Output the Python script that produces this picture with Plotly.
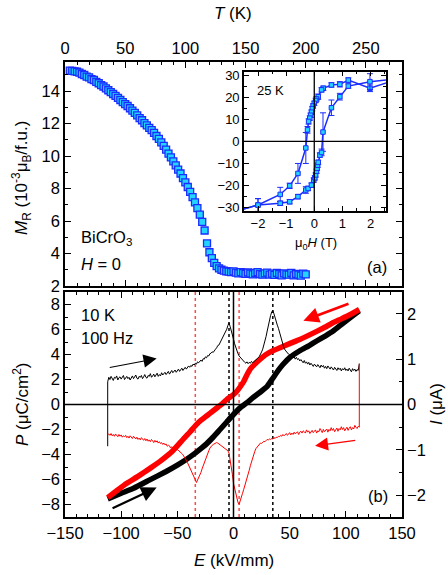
import plotly.graph_objects as go

# ---------------- (a) remanent magnetisation vs temperature ----------------
temp_K = [4, 6, 8, 10, 12, 14, 16, 18, 20, 22, 24, 26, 28, 30, 32, 34, 36, 38, 40,
          42, 44, 46, 48, 50, 52, 54, 56, 58, 60, 62, 64, 66, 68, 70, 72, 74, 76,
          78, 80, 82, 84, 86, 88, 90, 92, 94, 96, 98, 100, 102, 104, 106, 108, 110,
          112, 114, 116, 118, 120, 122, 124, 126, 128, 130, 132, 134, 136, 138, 140,
          142, 144, 146, 148, 150, 152, 154, 156, 158, 160, 162, 164, 166, 168, 170,
          172, 174, 176, 178, 180, 182, 184, 186, 188, 190, 192, 194, 196, 198, 200]
m_rem = [15.27, 15.25, 15.22, 15.2, 15.14, 15.06, 15.0, 14.9, 14.85, 14.74, 14.69,
         14.58, 14.49, 14.38, 14.29, 14.17, 14.06, 13.94, 13.83, 13.71, 13.59, 13.46,
         13.33, 13.21, 13.09, 12.95, 12.81, 12.66, 12.51, 12.34, 12.21, 12.04, 11.9,
         11.74, 11.6, 11.43, 11.24, 11.06, 10.85, 10.63, 10.4, 10.16, 9.92, 9.68,
         9.43, 9.17, 8.93, 8.65, 8.38, 8.1, 7.8, 7.48, 7.15, 6.8, 6.4, 5.95, 5.42,
         4.62, 4.08, 3.72, 3.42, 3.22, 3.09, 3.0, 2.95, 2.91, 2.88, 2.85, 2.9, 2.82,
         2.78, 2.86, 2.8, 2.75, 2.83, 2.77, 2.72, 2.8, 2.85, 2.74, 2.7, 2.78, 2.82,
         2.7, 2.76, 2.68, 2.8, 2.74, 2.66, 2.78, 2.72, 2.7, 2.8, 2.66, 2.74, 2.7,
         2.64, 2.76, 2.72]

# ---------------- inset: M(H) loop at 25 K ----------------
h_down = [3.0, 1.98, 1.21, 0.91, 0.61, 0.32, 0.26, 0.14, 0.08, 0.05, 0.0, -0.04,
          -0.07, -0.1, -0.13, -0.16, -0.2, -0.24, -0.3, -0.58, -0.875, -1.21, -2.0, -3.0]
m_down = [28.3, 24.0, 27.7, 25.8, 25.5, 24.0, 23.3, 20.2, 19.2, 18.5, 17.2, 16.0,
          14.8, 13.2, 11.8, 10.5, 9.0, 5.2, -3.0, -14.5, -20.1, -24.0, -28.8, -32.3]
err_down = [0, 1.5, 1.0, 1.2, 1.0, 1.0, 1.0, 1.2, 1.0, 1.0, 1.0, 1.0,
            1.0, 1.0, 1.0, 1.0, 1.2, 1.5, 7.0, 4.5, 1.2, 3.2, 2.9, 0]

h_up = [-3.0, -2.0, -1.21, -0.875, -0.58, -0.3, -0.22, -0.1, -0.02, 0.02, 0.05, 0.08,
        0.1, 0.12, 0.14, 0.2, 0.26, 0.31, 0.61, 0.91, 1.21, 1.98, 3.0]
m_up = [-32.3, -28.8, -28.0, -27.3, -25.0, -22.0, -21.3, -19.8, -17.5, -16.5, -15.2,
        -13.5, -12.2, -10.8, -9.5, -6.2, -5.0, 4.2, 15.2, 20.2, 25.0, 27.0, 28.3]
err_up = [0, 2.9, 1.0, 1.0, 1.0, 1.5, 1.0, 1.0, 1.0, 1.0, 1.0, 1.0,
          1.0, 1.0, 1.0, 1.0, 1.5, 8.7, 3.5, 1.5, 1.0, 3.6, 0]

# ---------------- (b) P(E) loop at 10 K, 100 Hz ----------------
e_up = [-112, -100, -89, -75, -60, -50, -42, -35, -28, -24, -18, -12, -6, 0, 6, 12,
        18, 24, 30, 35, 40, 44, 50, 59, 67, 74, 82, 89, 96, 104, 112]
p_up = [-7.55, -7.1, -6.7, -6.05, -5.36, -4.85, -4.4, -3.95, -3.45, -3.15, -2.6,
        -2.0, -1.4, -0.8, -0.25, 0.15, 0.6, 1.0, 1.45, 2.1, 2.75, 3.2, 3.75, 4.3,
        4.7, 5.08, 5.5, 5.9, 6.4, 6.96, 7.5]

e_down = [112, 104, 96, 89, 80, 70, 59, 50, 42, 35, 29, 24, 19, 15, 12, 9, 6, 3, 0,
          -3, -6, -10, -14, -18, -24, -30, -34, -39, -45, -54, -64, -74, -85, -95,
          -104, -112]
p_down = [7.6, 7.2, 6.85, 6.56, 6.12, 5.67, 5.2, 4.87, 4.56, 4.3, 4.0, 3.64, 3.23,
          2.85, 2.38, 1.82, 1.42, 1.06, 0.8, 0.6, 0.4, 0.06, -0.22, -0.5, -0.92,
          -1.34, -1.7, -2.22, -2.8, -3.7, -4.45, -5.09, -5.75, -6.3, -6.9, -7.45]

# switching current on the rising branch (black), one reading per kV/mm
e_cur_up = [-112, -112] + list(range(-111, 112)) + [112]
i_cur_up = [-0.92, 0.5,
            # -111 .. -100
            0.6, 0.55, 0.62, 0.57, 0.53, 0.6, 0.58, 0.63, 0.54, 0.59, 0.61, 0.56,
            # -99 .. -90
            0.6, 0.64, 0.55, 0.58, 0.62, 0.57, 0.6, 0.54, 0.61, 0.63,
            # -89 .. -80
            0.57, 0.6, 0.65, 0.58, 0.56, 0.62, 0.6, 0.64, 0.57, 0.61,
            # -79 .. -70
            0.66, 0.6, 0.58, 0.64, 0.62, 0.68, 0.6, 0.63, 0.67, 0.61,
            # -69 .. -60
            0.64, 0.69, 0.62, 0.66, 0.63, 0.7, 0.65, 0.68, 0.71, 0.66,
            # -59 .. -50
            0.69, 0.73, 0.67, 0.71, 0.75, 0.7, 0.72, 0.76, 0.71, 0.74,
            # -49 .. -40
            0.78, 0.73, 0.76, 0.8, 0.75, 0.79, 0.82, 0.78, 0.81, 0.85,
            # -39 .. -30
            0.82, 0.86, 0.84, 0.89, 0.87, 0.91, 0.89, 0.94, 0.92, 0.96,
            # -29 .. -20
            0.98, 0.95, 1.01, 1.0, 1.05, 1.03, 1.08, 1.07, 1.12, 1.13,
            # -19 .. -10
            1.16, 1.15, 1.2, 1.22, 1.25, 1.3, 1.31, 1.36, 1.4, 1.43,
            # -9 .. 0
            1.49, 1.53, 1.6, 1.66, 1.74, 1.8, 1.72, 1.6, 1.52, 1.44,
            # 1 .. 10
            1.34, 1.26, 1.17, 1.12, 1.07, 1.04, 1.0, 0.97, 0.95, 0.93,
            # 11 .. 20
            0.91, 0.94, 0.9, 0.93, 0.91, 0.95, 0.92, 0.94, 0.96, 0.97,
            # 21 .. 30
            1.0, 1.03, 1.06, 1.1, 1.16, 1.22, 1.3, 1.4, 1.5, 1.62,
            # 31 .. 40
            1.75, 1.86, 1.96, 2.04, 2.07, 2.0, 1.9, 1.82, 1.75, 1.68,
            # 41 .. 50
            1.58, 1.48, 1.38, 1.3, 1.24, 1.2, 1.16, 1.13, 1.11, 1.1,
            # 51 .. 60
            1.06, 1.09, 1.03, 1.05, 1.0, 1.04, 0.99, 1.01, 0.96, 0.99,
            # 61 .. 70
            0.95, 0.92, 0.97, 0.91, 0.94, 0.89, 0.93, 0.87, 0.91, 0.88,
            # 71 .. 80
            0.84, 0.89, 0.86, 0.83, 0.88, 0.85, 0.81, 0.87, 0.83, 0.86,
            # 81 .. 90
            0.8, 0.84, 0.79, 0.85, 0.82, 0.78, 0.83, 0.8, 0.76, 0.82,
            # 91 .. 100
            0.79, 0.75, 0.81, 0.77, 0.8, 0.74, 0.79, 0.76, 0.81, 0.75,
            # 101 .. 111
            0.78, 0.74, 0.8, 0.76, 0.72, 0.79, 0.75, 0.78, 0.73, 0.77, 0.75,
            # 112
            0.9]

# switching current on the falling branch (red)
e_cur_down = [112, 112] + list(range(111, -112, -1)) + [-112]
i_cur_down = [0.9, -0.5,
              # 111 .. 102
              -0.48, -0.53, -0.5, -0.46, -0.54, -0.51, -0.56, -0.49, -0.52, -0.57,
              # 101 .. 92
              -0.5, -0.54, -0.58, -0.51, -0.55, -0.49, -0.56, -0.53, -0.59, -0.52,
              # 91 .. 82
              -0.55, -0.6, -0.53, -0.57, -0.51, -0.58, -0.55, -0.61, -0.54, -0.57,
              # 81 .. 72
              -0.6, -0.55, -0.62, -0.57, -0.53, -0.6, -0.58, -0.63, -0.56, -0.59,
              # 71 .. 62
              -0.62, -0.57, -0.6, -0.64, -0.58, -0.61, -0.56, -0.63, -0.6, -0.58,
              # 61 .. 52
              -0.63, -0.59, -0.61, -0.66, -0.6, -0.63, -0.65, -0.61, -0.66, -0.63,
              # 51 .. 42
              -0.67, -0.62, -0.65, -0.68, -0.64, -0.67, -0.69, -0.66, -0.7, -0.68,
              # 41 .. 32
              -0.71, -0.7, -0.73, -0.72, -0.75, -0.73, -0.76, -0.75, -0.77, -0.76,
              # 31 .. 22
              -0.78, -0.77, -0.8, -0.82, -0.81, -0.84, -0.86, -0.85, -0.88, -0.9,
              # 21 .. 12
              -0.93, -0.97, -1.03, -1.1, -1.18, -1.26, -1.35, -1.45, -1.55, -1.64,
              # 11 .. 2
              -1.72, -1.8, -1.88, -1.96, -2.04, -2.12, -2.2, -2.16, -2.06, -1.96,
              # 1 .. -8
              -1.88, -1.74, -1.54, -1.34, -1.18, -1.07, -1.02, -1.0, -0.97, -0.95,
              # -9 .. -18
              -0.94, -0.92, -0.9, -0.88, -0.86, -0.85, -0.84, -0.85, -0.87, -0.88,
              # -19 .. -28
              -0.9, -0.92, -0.96, -1.02, -1.08, -1.14, -1.2, -1.28, -1.35, -1.42,
              # -29 .. -38
              -1.5, -1.56, -1.62, -1.68, -1.72, -1.66, -1.6, -1.54, -1.48, -1.43,
              # -39 .. -48
              -1.38, -1.33, -1.28, -1.23, -1.18, -1.14, -1.11, -1.08, -1.06, -1.03,
              # -49 .. -58
              -1.01, -0.99, -1.0, -0.96, -0.98, -0.95, -0.93, -0.96, -0.91, -0.9,
              # -59 .. -68
              -0.92, -0.87, -0.89, -0.85, -0.88, -0.84, -0.86, -0.82, -0.85, -0.8,
              # -69 .. -78
              -0.83, -0.79, -0.84, -0.8, -0.77, -0.82, -0.78, -0.81, -0.76, -0.8,
              # -79 .. -88
              -0.75, -0.79, -0.76, -0.73, -0.78, -0.74, -0.77, -0.72, -0.76, -0.73,
              # -89 .. -98
              -0.7, -0.75, -0.72, -0.69, -0.74, -0.7, -0.73, -0.68, -0.71, -0.69,
              # -99 .. -108
              -0.72, -0.67, -0.7, -0.66, -0.71, -0.68, -0.65, -0.7, -0.66, -0.69,
              # -109 .. -111
              -0.64, -0.68, -0.65,
              # -112
              -0.66]

# coercive fields marked by the current maxima / minima
e_peak_up = [-4, 35]
e_peak_down = [-34, 5]

FONT = "Liberation Sans, Arial, sans-serif"
BLUE = "#1a2cff"
CYAN = "#22d4ff"
RED = "#ff0000"
DOT_RED = "#ff4a4a"

fig = go.Figure()

# (a)
fig.add_trace(go.Scatter(
    x=temp_K, y=m_rem, xaxis="x2", yaxis="y3", mode="markers",
    marker=dict(symbol="square", size=7, color=CYAN, line=dict(color=BLUE, width=1.3)),
    showlegend=False))

# inset
for hh, mm, ee in [(h_down, m_down, err_down), (h_up, m_up, err_up)]:
    fig.add_trace(go.Scatter(
        x=hh, y=mm, xaxis="x3", yaxis="y4", mode="lines+markers",
        line=dict(color=BLUE, width=1.5),
        marker=dict(symbol="square", size=4.5, color=CYAN, line=dict(color=BLUE, width=1)),
        error_y=dict(type="data", array=ee, visible=True, color=BLUE, thickness=1, width=3),
        showlegend=False))

# (b) polarisation loops
fig.add_trace(go.Scatter(x=e_up, y=p_up, xaxis="x", yaxis="y", mode="lines",
                         line=dict(color="black", width=5.5, shape="spline", smoothing=0.4),
                         showlegend=False))
fig.add_trace(go.Scatter(x=e_down, y=p_down, xaxis="x", yaxis="y", mode="lines",
                         line=dict(color=RED, width=5.5, shape="spline", smoothing=0.4),
                         showlegend=False))
# (b) switching currents
fig.add_trace(go.Scatter(x=e_cur_up, y=i_cur_up, xaxis="x", yaxis="y2", mode="lines",
                         line=dict(color="black", width=1), showlegend=False))
fig.add_trace(go.Scatter(x=e_cur_down, y=i_cur_down, xaxis="x", yaxis="y2", mode="lines",
                         line=dict(color=RED, width=1), showlegend=False))

tickfont = dict(family=FONT, size=16.5, color="black")
insetfont = dict(family=FONT, size=13, color="black")
common = dict(showgrid=False, zeroline=False, showline=True, linecolor="black",
              linewidth=1.5, ticks="inside", tickcolor="black", tickwidth=1.2,
              ticklen=6)

fig.update_layout(
    width=448, height=575, autosize=False,
    margin=dict(l=65, r=46, t=62, b=58),
    paper_bgcolor="white", plot_bgcolor="white",
    font=dict(family=FONT, color="black"),
    xaxis=dict(**common, domain=[0, 1], anchor="y", range=[-150, 150], dtick=50,
               mirror="ticks", tickfont=tickfont,
               minor=dict(dtick=10, ticks="inside", ticklen=3, tickcolor="black")),
    yaxis=dict(**common, domain=[0, 0.4945], anchor="x", range=[-9, 9], dtick=2,
               tickfont=tickfont,
               minor=dict(dtick=1, ticks="inside", ticklen=3, tickcolor="black")),
    yaxis2=dict(**common, overlaying="y", side="right", anchor="x",
                range=[-2.48, 2.48], dtick=1, tickfont=tickfont,
                minor=dict(dtick=0.5, ticks="inside", ticklen=3, tickcolor="black")),
    xaxis2=dict(**common, domain=[0, 1], anchor="y3", side="top", range=[0, 280],
                dtick=50, mirror="ticks", tickfont=tickfont,
                minor=dict(dtick=10, ticks="inside", ticklen=3, tickcolor="black")),
    yaxis3=dict(**common, domain=[0.5077, 1], anchor="x2", range=[2, 15.8], dtick=2,
                mirror="ticks", tickfont=tickfont,
                minor=dict(dtick=1, ticks="inside", ticklen=3, tickcolor="black")),
    xaxis3=dict(**{**common, "ticklen": 5}, domain=[0.531, 0.9525], anchor="y4",
                range=[-2.5, 2.55], dtick=1, mirror="ticks", tickfont=insetfont,
                minor=dict(dtick=0.5, ticks="inside", ticklen=3, tickcolor="black")),
    yaxis4=dict(**{**common, "ticklen": 5}, domain=[0.6725, 0.9787], anchor="x3",
                range=[-31.5, 31.5], dtick=10, mirror="ticks", tickfont=insetfont,
                minor=dict(dtick=5, ticks="inside", ticklen=3, tickcolor="black")),
)

shapes = [
    # zero lines in (b)
    dict(type="line", xref="x domain", yref="y", x0=0, x1=1, y0=0, y1=0,
         line=dict(color="black", width=1.5)),
    dict(type="line", xref="x", yref="y domain", x0=0, x1=0, y0=0, y1=1,
         line=dict(color="black", width=1.5)),
    # zero lines in the inset
    dict(type="line", xref="x3 domain", yref="y4", x0=0, x1=1, y0=0, y1=0,
         line=dict(color="black", width=1.3)),
    dict(type="line", xref="x3", yref="y4 domain", x0=0, x1=0, y0=0, y1=1,
         line=dict(color="black", width=1.3)),
]
for e in e_peak_up:
    shapes.append(dict(type="line", xref="x", yref="y domain", x0=e, x1=e, y0=0, y1=1,
                       line=dict(color="black", width=1.5, dash="dot"), layer="below"))
for e in e_peak_down:
    shapes.append(dict(type="line", xref="x", yref="y domain", x0=e, x1=e, y0=0, y1=1,
                       line=dict(color=DOT_RED, width=1.5, dash="dot"), layer="below"))
fig.update_layout(shapes=shapes)


def px_x(px):
    return (px - 65) / 337


def px_y(py):
    return (517 - py) / 455


ann = []


def text(s, x, y, size=16.5, xanchor="center", angle=0):
    ann.append(dict(text=s, x=px_x(x), y=px_y(y), xref="paper", yref="paper",
                    showarrow=False, xanchor=xanchor, yanchor="middle",
                    textangle=angle, font=dict(family=FONT, size=size, color="black")))


text("<i>T</i> (K)", 233, 14, 17)
text("<i>E</i> (kV/mm)", 234, 560, 17)
text("<i>M</i><sub>R</sub> (10<sup>-3</sup>μ<sub>B</sub>/f.u.)", 21, 178, 17, angle=-90)
text("<i>P</i> (μC/cm<sup>2</sup>)", 21, 404, 17, angle=-90)
text("<i>I</i> (μA)", 436, 404, 17, angle=-90)
text("μ<sub>0</sub><i>H</i> (T)", 316, 243, 13)
text("25 K", 255, 90, 13, xanchor="left")
text("(a)", 377, 267, 16.5)
text("(b)", 378, 496, 16.5)
text("BiCrO<sub>3</sub>", 79, 238, 16.5, xanchor="left")
text("<i>H</i> = 0", 79, 264, 16.5, xanchor="left")
text("10 K", 79, 315, 16.5, xanchor="left")
text("100 Hz", 79, 338, 16.5, xanchor="left")


def arrow(x0, y0, x1, y1, color, width, size):
    ann.append(dict(x=x1, y=y1, ax=x0, ay=y0, xref="x", yref="y", axref="x", ayref="y",
                    text="", showarrow=True, arrowhead=2, arrowsize=size,
                    arrowwidth=width, arrowcolor=color, standoff=0))


arrow(-111.5, 2.94, -68.4, 3.67, "black", 1.2, 2.2)
arrow(-109, -8.35, -68.4, -6.65, "black", 2.2, 1.4)
arrow(103.7, 8.1, 62.2, 6.7, RED, 2.6, 1.2)
arrow(109.7, -2.86, 72.6, -3.3, RED, 1.3, 2.0)

fig.update_layout(annotations=ann)

fig.write_html("out.html")
